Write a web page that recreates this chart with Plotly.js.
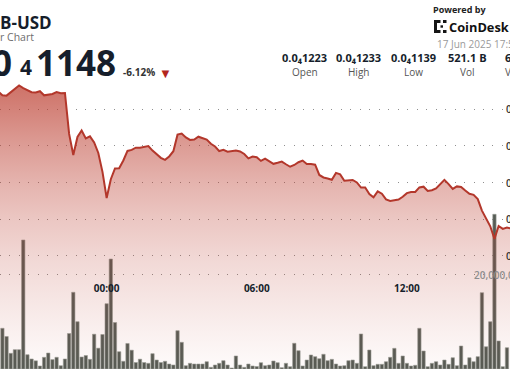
<!DOCTYPE html>
<html><head><meta charset="utf-8">
<script src="https://cdn.plot.ly/plotly-3.0.1.min.js"></script>
<style>html,body{margin:0;padding:0;background:#fff;overflow:hidden}#chart{width:510px;height:369px}</style>
</head><body><div id="chart"></div>
<script>
// ---- data ----
const symbolText = 'B-USD';
const subtitleText = 'r Chart';
const lastPriceParts = ['0', '4', '1148'];
const changeText = '-6.12%';
const timestampText = '17 Jun 2025 17:51';
const statValues = ['0.0\u20841223', '0.0\u20841233', '0.0\u20841139', '521.1 B', '6'];
const statLabels = ['Open', 'High', 'Low', 'Vol', 'V'];

// 10-minute samples starting 16 Jun 2025 19:40 (UTC)
const seriesStartUTC = Date.UTC(2025, 5, 16, 19, 40);
const stepMinutes = 10;
// price in units of 0.0₄ (i.e. value = 0.0000xxxx)
const price = [1237.1,
  1234.6, 1234.3, 1236.5, 1238.6, 1241.2, 1239.4, 1238.2, 1236.6, 1236.5, 1237.3,
  1234.5, 1235.2, 1235.4, 1236.7, 1236.0, 1236.1, 1208.2, 1193.8, 1206.1, 1210.5,
  1205.1, 1206.5, 1202.4, 1195.2, 1182.3, 1164.5, 1177.3, 1184.6, 1184.8, 1190.1,
  1196.6, 1197.3, 1198.8, 1198.8, 1199.2, 1199.9, 1196.8, 1194.3, 1191.9, 1190.5,
  1192.8, 1196.4, 1207.7, 1208.4, 1205.8, 1204.1, 1204.4, 1206.3, 1205.4, 1204.3,
  1201.5, 1199.6, 1196.5, 1197.3, 1196.1, 1196.4, 1196.8, 1196.2, 1194.5, 1191.5,
  1192.7, 1192.3, 1189.8, 1191.3, 1189.4, 1187.8, 1188.5, 1189.3, 1187.5, 1185.8,
  1187.0, 1188.9, 1190.0, 1187.7, 1187.6, 1187.2, 1180.2, 1178.5, 1177.8, 1176.9,
  1181.6, 1180.6, 1176.3, 1176.8, 1176.8, 1175.1, 1171.6, 1171.7, 1167.2, 1165.0,
  1169.0, 1167.4, 1163.5, 1162.5, 1162.8, 1163.4, 1165.3, 1167.8, 1168.6, 1168.6,
  1171.7, 1172.2, 1169.3, 1169.8, 1171.0, 1173.8, 1176.9, 1174.0, 1170.7, 1172.4,
  1172.0, 1169.6, 1167.4, 1166.6, 1163.7, 1155.9, 1150.3, 1145.2, 1136.6, 1145.4,
  1143.4, 1144.4,
  1143.7];
// volume in billions
const volumeB = [null,
  8.66, 6.91, 3.34, 4.11, 4.11, 27.45, 3.04, 2.13, 1.74, 0.64,
  2.49, 3.40, 2.00, 2.49, 0.70, 2.13, 7.55, 16.32, 10.06, 2.55,
  2.87, 2.06, 7.40, 4.43, 7.34, 13.89, 23.40, 9.89, 3.68, 1.64,
  5.43, 4.00, 1.38, 2.09, 1.38, 1.21, 3.26, 1.91, 1.38, 1.64,
  1.06, 0.85, 8.15, 5.68, 0.70, 1.21, 1.06, 1.06, 1.06, 1.55,
  0.36, 0.85, 1.21, 1.77, 0.85, 0.21, 2.77, 0.85, 0.36, 1.06,
  0.64, 0.53, 1.34, 0.70, 0.85, 1.70, 1.34, 0.28, 1.21, 0.49,
  5.47, 3.89, 0.64, 1.91, 2.98, 2.62, 2.19, 3.13, 1.77, 2.06,
  1.06, 0.64, 0.70, 1.77, 1.91, 1.21, 7.45, 0.49, 4.04, 0.70,
  1.00, 1.00, 1.55, 2.49, 4.40, 1.21, 2.77, 1.21, 0.64, 0.79,
  8.66, 3.83, 0.49, 1.21, 1.55, 0.85, 1.91, 1.00, 2.40, 0.70,
  4.89, 0.85, 2.40, 1.55, 2.62, 16.23, 4.74, 10.06, 32.91, 5.96,
  0.49, 4.53,
  null];

const timeTicks = ['2025-06-17 00:00', '2025-06-17 06:00', '2025-06-17 12:00'];
const timeTickLabels = ['00:00', '06:00', '12:00'];
const priceGrid = [1125, 1150, 1175, 1200, 1225];
const priceGridLabels = ['0.0\u20841125', '0.0\u20841150', '0.0\u20841175', '0.0\u20841200', '0.0\u20841225'];
const volumeGrid = [20];
const volumeGridLabels = ['20,000,000,000'];

// ---- build ----
const times = price.map((_, k) => new Date(seriesStartUTC + k * stepMinutes * 60000)
  .toISOString().slice(0, 16).replace('T', ' '));

const W = 510, H = 369;
const px = x => x / W;
const py = y => 1 - y / H;
const FONT = 'Open Sans, Noto Sans, sans-serif';
const dark = '#161e2b';
const gridDash = '1px,8.47px';
const gridColor = '#8f8f8f';

const red = 'rgba(188,62,48,';
const priceBottom = 1047.9, priceTop = 1299.5;

const traces = [
  {
    type: 'bar', x: times, y: volumeB, xaxis: 'x', yaxis: 'y',
    marker: {color: '#565c55', line: {color: '#9aa099', width: 0.6}},
    hoverinfo: 'skip'
  },
  {
    type: 'scatter', mode: 'lines', x: times, y: price, xaxis: 'x', yaxis: 'y2',
    line: {color: '#b3372b', width: 2},
    fill: 'tozeroy',
    fillgradient: {
      type: 'vertical', start: priceBottom, stop: 1241.6,
      colorscale: [
        [0, red + '0.02)'], [0.137, red + '0.08)'], [0.243, red + '0.13)'],
        [0.384, red + '0.2)'], [0.525, red + '0.29)'], [0.665, red + '0.4)'],
        [0.806, red + '0.53)'], [0.947, red + '0.68)'], [1, red + '0.73)']
      ]
    },
    hoverinfo: 'skip'
  }
];

const annotations = [];
function ann(text, x, y, o) {
  annotations.push(Object.assign({
    text: text, xref: 'paper', yref: 'paper', x: px(x), y: py(y),
    xanchor: 'left', yanchor: 'middle', showarrow: false, borderpad: 0,
    font: {family: FONT, size: 11, color: dark}
  }, o || {}));
}
ann(symbolText, -1, 22.5, {font: {family: FONT, size: 17, color: dark, weight: 700}});
ann(subtitleText, -1, 37, {font: {family: FONT, size: 10.5, color: '#6d6d6d'}});
ann(lastPriceParts[0], 13, 62.5, {xanchor: 'right', font: {family: FONT, size: 35, color: dark, weight: 700}});
ann(lastPriceParts[1], 19, 66.5, {font: {family: FONT, size: 21, color: dark, weight: 700}});
ann(lastPriceParts[2], 34.5, 62.5, {font: {family: FONT, size: 35, color: dark, weight: 700}});
ann(changeText, 122, 72, {font: {family: FONT, size: 10, color: '#333', weight: 700}});
ann('\u25BC', 157.5, 72.5, {font: {family: FONT, size: 13, color: '#b3261e'}});
ann('Powered by', 432, 9.7, {font: {family: FONT, size: 9, color: '#222', weight: 700}});
ann('CoinDesk', 448, 26.5, {font: {family: FONT, size: 12.8, color: '#111', weight: 700}});
ann(timestampText, 436, 44, {font: {family: FONT, size: 10, color: '#9a9a9a'}});
const statCenters = [304.5, 358.5, 413, 467, null];
statValues.forEach((v, i) => {
  const c = statCenters[i];
  if (c === null) {
    ann(v, 504, 58, {font: {family: FONT, size: 11, color: dark, weight: 700}});
    ann(statLabels[i], 504, 71.5, {font: {family: FONT, size: 10, color: '#555'}});
  } else {
    ann(v, c, 58, {xanchor: 'center', font: {family: FONT, size: 11, color: dark, weight: 700}});
    ann(statLabels[i], c, 71.5, {xanchor: 'center', font: {family: FONT, size: 10, color: '#555'}});
  }
});
priceGrid.forEach((v, i) => {
  annotations.push({text: priceGridLabels[i], xref: 'paper', yref: 'y2', x: px(505), y: v,
    xanchor: 'left', yanchor: 'middle', showarrow: false, borderpad: 0,
    font: {family: FONT, size: 10, color: '#333', weight: 600}});
});
volumeGrid.forEach((v, i) => {
  annotations.push({text: volumeGridLabels[i], xref: 'paper', yref: 'y', x: px(473), y: v,
    xanchor: 'left', yanchor: 'middle', showarrow: false, borderpad: 0,
    font: {family: FONT, size: 10, color: '#8e8e8e', weight: 600}});
});

// CoinDesk mark
const logoRects = [[434, 20, 437, 33], [437, 20, 440.5, 23], [437, 30, 440.5, 33],
  [443, 20, 446.5, 23], [443, 30, 446.5, 33], [440.5, 25.3, 443, 27.7]];
const shapes = logoRects.map(r => ({type: 'rect', xref: 'paper', yref: 'paper',
  x0: px(r[0]), x1: px(r[2]), y0: py(r[3]), y1: py(r[1]),
  fillcolor: '#161616', line: {width: 0}}));

const layout = {
  width: W, height: H, margin: {l: 0, r: 0, t: 0, b: 0},
  paper_bgcolor: '#ffffff', plot_bgcolor: '#ffffff',
  showlegend: false, hovermode: false, bargap: 0.2,
  font: {family: FONT},
  xaxis: {
    type: 'date', range: ['2025-06-16 19:44:15', '2025-06-17 16:07:18'],
    tickvals: timeTicks, ticktext: timeTickLabels, ticks: '',
    showgrid: false, zeroline: false, showline: false,
    anchor: 'free', position: py(281),
    tickfont: {family: FONT, size: 10, color: dark, weight: 700}
  },
  yaxis: {
    range: [0, 78.5], tickvals: volumeGrid, showticklabels: false,
    showgrid: true, gridcolor: gridColor, griddash: gridDash, gridwidth: 1,
    zeroline: false, showline: false, fixedrange: true
  },
  yaxis2: {
    overlaying: 'y', range: [priceBottom, priceTop], tickvals: priceGrid,
    showticklabels: false, showgrid: true, gridcolor: gridColor, griddash: gridDash,
    gridwidth: 1, zeroline: false, showline: false, side: 'right'
  },
  annotations: annotations,
  shapes: shapes
};

Plotly.newPlot('chart', traces, layout, {displayModeBar: false, staticPlot: true});
</script>
</body></html>
